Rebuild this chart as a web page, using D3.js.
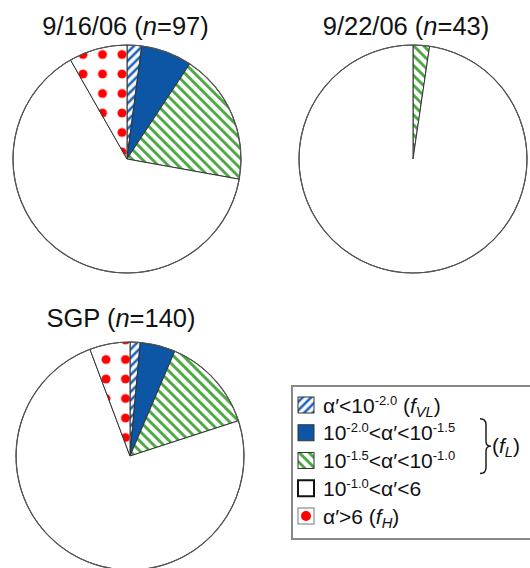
<!DOCTYPE html>
<html><head><meta charset="utf-8">
<script src="https://cdn.jsdelivr.net/npm/d3@7"></script>
<style>body{margin:0;background:#fff}svg{display:block}text{font-family:"Liberation Sans",Arial,sans-serif;fill:#111}</style>
</head><body><div id="chart"></div>
<script>
// ---- data ----
const categories = ["veryLow", "low1", "low2", "mid", "high"];
const pieTitles = ["9/16/06", "9/22/06", "SGP"];
const nValues = [97, 43, 140];
const counts0916 = [2, 7, 18, 62, 8];
const counts0922 = [0, 0, 1, 42, 0];
const countsSGP = [2, 7, 19, 104, 8];
const legendLabels = [
  [["α′<10"], ["-2.0", "sup"], [" ("], ["f", "it"], ["VL", "subit"], [")"]],
  [["10"], ["-2.0", "sup"], ["<α′<10"], ["-1.5", "sup"]],
  [["10"], ["-1.5", "sup"], ["<α′<10"], ["-1.0", "sup"]],
  [["10"], ["-1.0", "sup"], ["<α′<6"]],
  [["α′>6 ("], ["f", "it"], ["H", "subit"], [")"]]
];
const braceLabel = [["("], ["f", "it"], ["L", "subit"], [")"]];

const W = 530, H = 568;
const svg = d3.select("#chart").append("svg").attr("width", W).attr("height", H);
const defs = svg.append("defs");

const blue = "#0d55a5", blueHatch = "#1f64b3", green = "#45a63a", red = "#ff0000";

function hatch(id, color, angle, size, sw) {
  const p = defs.append("pattern").attr("id", id).attr("patternUnits", "userSpaceOnUse")
    .attr("width", size).attr("height", size).attr("patternTransform", `rotate(${angle})`);
  p.append("rect").attr("width", size).attr("height", size).attr("fill", "#fff");
  p.append("line").attr("x1", size / 2).attr("x2", size / 2).attr("y1", 0).attr("y2", size)
    .attr("stroke", color).attr("stroke-width", sw);
}
hatch("hBlue", blueHatch, 45, 6, 2.6);
hatch("hGreen", green, -45, 7, 2.8);

function dots(id, cx, cy, sp, r) {
  const p = defs.append("pattern").attr("id", id).attr("patternUnits", "userSpaceOnUse")
    .attr("width", sp).attr("height", sp)
    .attr("patternTransform", `translate(${cx - sp / 2},${cy - sp / 2})`);
  p.append("rect").attr("width", sp).attr("height", sp).attr("fill", "#fff");
  p.append("circle").attr("cx", sp / 2).attr("cy", sp / 2).attr("r", r).attr("fill", red);
}
dots("dots0", 92.5, 51.5, 19.5, 4.5);
dots("dots1", 92.5, 51.5, 19.5, 4.5);
dots("dots2", 93, 352, 19.5, 4.5);

const fills = (i) => ["url(#hBlue)", blue, "url(#hGreen)", "#fff", `url(#dots${i})`];

const pies = [
  { counts: counts0916, cx: 127, cy: 159, tx: 125.5, ty: 35 },
  { counts: counts0922, cx: 413, cy: 159, tx: 406, ty: 35 },
  { counts: countsSGP, cx: 130, cy: 456, tx: 121, ty: 327 }
];
const R = 114;
const pieGen = d3.pie().sort(null).value(d => d.v);
const arc = d3.arc().innerRadius(0).outerRadius(R);

pies.forEach((p, i) => {
  const g = svg.append("g").attr("transform", `translate(${p.cx},${p.cy})`);
  const data = p.counts.map((v, k) => ({ v, k }));
  const arcs = pieGen(data).filter(a => a.data.v > 0);
  g.selectAll("path.slice").data(arcs).join("path").attr("class", "slice")
    .attr("d", arc).attr("fill", d => fills(i)[d.data.k])
    .attr("stroke", "#333").attr("stroke-width", 1);
  g.append("circle").attr("r", R).attr("fill", "none").attr("stroke", "#555").attr("stroke-width", 1.2);
  const t = svg.append("text").attr("x", p.tx).attr("y", p.ty).attr("text-anchor", "middle")
    .attr("font-size", 25.5);
  t.append("tspan").text(pieTitles[i] + " (");
  t.append("tspan").attr("font-style", "italic").text("n");
  t.append("tspan").text("=" + nValues[i] + ")");
});

// legend
const lg = svg.append("g");
lg.append("rect").attr("x", 292).attr("y", 386).attr("width", 260).attr("height", 153)
  .attr("fill", "#fff").attr("stroke", "#888").attr("stroke-width", 2);
const rowY = d3.scaleLinear().domain([0, 4]).range([405, 516]);
const swFill = ["url(#hBlue)", blue, "url(#hGreen)", "#fff", "#fff"];
const FS = 21;

function richText(sel, parts, size) {
  parts.forEach(([s, kind]) => {
    const ts = sel.append("tspan").text(s);
    if (kind === "sup") ts.attr("font-size", size * 0.62).attr("baseline-shift", "62%");
    else if (kind === "it") ts.attr("font-style", "italic");
    else if (kind === "subit") ts.attr("font-style", "italic").attr("font-size", size * 0.7).attr("baseline-shift", "-24%");
  });
}

categories.forEach((c, k) => {
  const y = rowY(k);
  lg.append("rect").attr("x", 298).attr("y", y - 8).attr("width", 16).attr("height", 16)
    .attr("fill", swFill[k]).attr("stroke", k === 3 ? "#111" : (k === 4 ? "#777" : "#333"))
    .attr("stroke-width", k === 3 ? 2 : 1);
  if (k === 4) lg.append("circle").attr("cx", 306).attr("cy", y).attr("r", 5).attr("fill", red);
  const t = lg.append("text").attr("x", 323).attr("y", y + 7.5).attr("font-size", FS);
  richText(t, legendLabels[k], FS);
});

// brace
const yb0 = rowY(1) - 14, yb1 = rowY(2) + 13, ym = (yb0 + yb1) / 2;
lg.append("path")
  .attr("d", `M480,${yb0} Q486,${yb0} 486,${yb0 + 6} L486,${ym - 5} Q486,${ym} 491,${ym} Q486,${ym} 486,${ym + 5} L486,${yb1 - 6} Q486,${yb1} 480,${yb1}`)
  .attr("fill", "none").attr("stroke", "#111").attr("stroke-width", 1.4);
const bt = lg.append("text").attr("x", 492).attr("y", ym + 7).attr("font-size", FS);
richText(bt, braceLabel, FS);
</script></body></html>
